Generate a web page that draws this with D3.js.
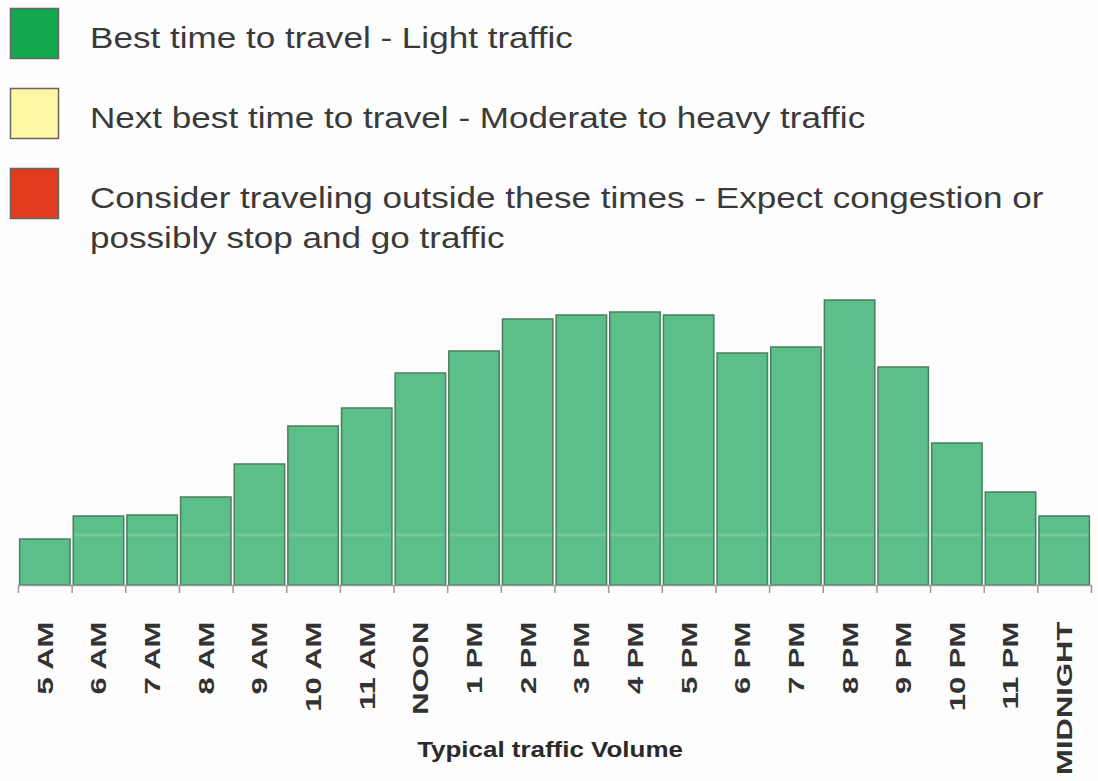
<!DOCTYPE html>
<html>
<head>
<meta charset="utf-8">
<script src="https://cdn.jsdelivr.net/npm/d3@7"></script>
<style>
  body { margin: 0; background: #fdfdfd; }
  svg { display: block; }
</style>
</head>
<body>
<div id="chart-area"></div>
<script>
var hours = ["5 AM", "6 AM", "7 AM", "8 AM", "9 AM", "10 AM", "11 AM", "NOON", "1 PM", "2 PM",
    "3 PM", "4 PM", "5 PM", "6 PM", "7 PM", "8 PM", "9 PM", "10 PM", "11 PM", "MIDNIGHT"];
var volume = [46, 69, 70, 88, 121, 159, 177, 212, 234, 266,
    270, 273, 270, 232, 238, 285, 218, 142, 93, 69];
var legendColors = ["#13a84e", "#fff6a6", "#e33b20"];
var legendLabels = [
    ["Best time to travel - Light traffic"],
    ["Next best time to travel - Moderate to heavy traffic"],
    ["Consider traveling outside these times - Expect congestion or", "possibly stop and go traffic"]
];
var axisTitle = "Typical traffic Volume";

var width = 1098, height = 781;
var base = 585;
var font = "Liberation Sans, Arial, sans-serif";

var svg = d3.select("#chart-area").append("svg")
    .attr("width", width)
    .attr("height", height)
svg.append("rect").attr("width", width).attr("height", height).attr("fill", "#fdfdfd")

// legend (the source text is a bit wider than normal Arial)
var legend = svg.append("g")
var rowY = [8, 88, 168];
legendLabels.forEach((lines, i) => {
    legend.append("rect")
        .attr("x", 10.5)
        .attr("y", rowY[i] + 0.5)
        .attr("width", 48)
        .attr("height", 50)
        .attr("fill", legendColors[i])
        .attr("stroke", "#666")
        .attr("stroke-width", 1.5)
    lines.forEach((t, j) => {
        legend.append("text")
            .attr("transform", "translate(90, " + (rowY[i] + 40 + j * 40) + ") scale(1.17, 1)")
            .attr("font-family", font)
            .attr("font-size", "30px")
            .attr("fill", "#3a3a3a")
            .text(t)
    })
})

var x = d3.scaleBand().domain(hours).range([18, 1091]).paddingInner(0.06).paddingOuter(0.03);
var xEdge = d3.scaleLinear().domain([0, hours.length]).range([18, 1091]);
var y = d3.scaleLinear().domain([0, 300]).range([base, base - 300]);

var g = svg.append("g")

g.selectAll("rect.bar")
    .data(volume)
    .enter().append("rect")
    .attr("class", "bar")
    .attr("x", (d, i) => x(hours[i]))
    .attr("y", (d) => y(d))
    .attr("width", x.bandwidth())
    .attr("height", (d) => base - y(d))
    .attr("fill", "#5cbf89")
    .attr("stroke", "#4a7f5e")
    .attr("stroke-width", 1.5)

// faint light streak across the bars
g.selectAll("line.shine")
    .data(volume)
    .enter().append("line")
    .attr("class", "shine")
    .attr("x1", (d, i) => x(hours[i]) + 1)
    .attr("x2", (d, i) => x(hours[i]) + x.bandwidth() - 1)
    .attr("y1", y(50))
    .attr("y2", y(50))
    .attr("stroke", "#ffffff")
    .attr("stroke-opacity", 0.15)
    .attr("stroke-width", 3)

// ticks at band edges
var tickAxis = g.append("g")
    .attr("transform", "translate(0, " + base + ")")
    .call(d3.axisBottom(xEdge).tickValues(d3.range(hours.length + 1)).tickFormat("").tickSize(8).tickSizeOuter(0))
tickAxis.select(".domain").attr("stroke", "#9a9a9a").attr("stroke-width", 1.5)
tickAxis.selectAll(".tick line").attr("stroke", "#9a9a9a").attr("stroke-width", 1.5)

// labels, stretched along their baseline like the source
var labelAxis = g.append("g")
    .attr("transform", "translate(0, " + base + ")")
    .call(d3.axisBottom(x).tickSize(0))
labelAxis.select(".domain").remove()
labelAxis.selectAll("text")
    .attr("transform", "rotate(-90) scale(1.41, 1)")
    .attr("x", -26)
    .attr("y", 0)
    .attr("dy", "0.36em")
    .attr("text-anchor", "end")
    .attr("font-family", font)
    .attr("font-weight", "bold")
    .attr("font-size", "22px")
    .attr("fill", "#333")

svg.append("text")
    .attr("transform", "translate(550, 757) scale(1.18, 1)")
    .attr("text-anchor", "middle")
    .attr("font-family", font)
    .attr("font-weight", "bold")
    .attr("font-size", "22px")
    .attr("fill", "#2a2a2a")
    .text(axisTitle)
</script>
</body>
</html>
